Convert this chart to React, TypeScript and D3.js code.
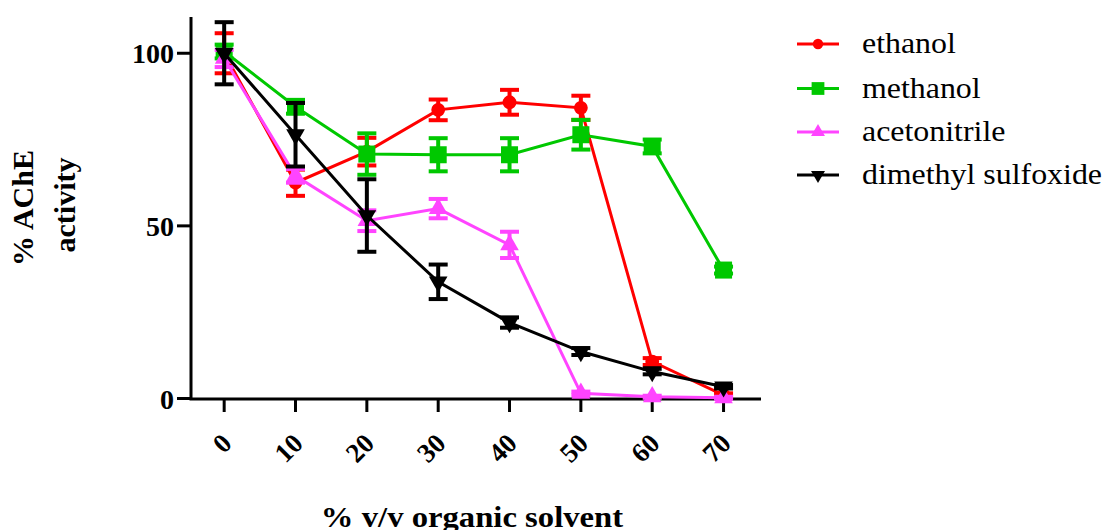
import React from 'react';
import * as d3 from 'd3';

const concentrations = [0, 10, 20, 30, 40, 50, 60, 70];
const xTickLabels = ['0', '10', '20', '30', '40', '50', '60', '70'];
const yTicks = [0, 50, 100];
const seriesNames = ['ethanol', 'methanol', 'acetonitrile', 'dimethyl sulfoxide'];

const ethanolMean = [100, 62.5, 71.5, 83.6, 85.8, 84.2, 10.7, 1];
const ethanolErr = [5.8, 3.8, 4, 3, 3.6, 3.5, 1, 0.5];
const methanolMean = [100.5, 84.5, 70.8, 70.6, 70.6, 76.4, 73, 37.2];
const methanolErr = [2, 2, 6, 4.8, 4.8, 4.3, 2, 1];
const acetonitrileMean = [98.5, 64.5, 51.5, 55, 44.5, 1.5, 0.5, 0.2];
const acetonitrileErr = [2.5, 2, 3, 2.8, 3.8, 0.5, 0.3, 0.3];
const dmsoMean = [100, 76.4, 53, 33.8, 22, 13.6, 7.8, 3.4];
const dmsoErr = [9, 9.2, 10.5, 5, 1.5, 1, 0.8, 0.5];

const W = 1107;
const H = 530;
const FONT = '"Liberation Serif", "Times New Roman", serif';

type Series = { name: string; mean: number[]; err: number[]; color: string; shape: string };

const series: Series[] = [
  { name: seriesNames[0], mean: ethanolMean, err: ethanolErr, color: '#ff0000', shape: 'circle' },
  { name: seriesNames[1], mean: methanolMean, err: methanolErr, color: '#00c800', shape: 'square' },
  { name: seriesNames[2], mean: acetonitrileMean, err: acetonitrileErr, color: '#ff44ff', shape: 'triangle' },
  { name: seriesNames[3], mean: dmsoMean, err: dmsoErr, color: '#000000', shape: 'invtriangle' },
];

function markerPath(shape: string, big: boolean): { d: string; rot: number } {
  const k = big ? 1 : 0.75;
  if (shape === 'circle') return { d: d3.symbol(d3.symbolCircle, 150 * k * k)()!, rot: 0 };
  if (shape === 'square') return { d: d3.symbol(d3.symbolSquare, 290 * k * k)()!, rot: 0 };
  if (shape === 'triangle') return { d: d3.symbol(d3.symbolTriangle, 150 * k * k)()!, rot: 0 };
  return { d: d3.symbol(d3.symbolTriangle, 150 * k * k)()!, rot: 180 };
}

export default function App() {
  const x = d3.scaleLinear().domain([-4.65, 75.25]).range([191, 761]);
  const y = d3.scaleLinear().domain([0, 110.5]).range([398.5, 17]);
  const line = d3
    .line<number>()
    .x((_, i) => x(concentrations[i]))
    .y((v) => y(v));

  const legendRows = [44, 88.5, 132, 175];

  return (
    <svg
      width={W}
      height={H}
      style={{ position: 'absolute', left: 0, top: 0, background: '#fff' }}
      fontFamily={FONT}
    >
      <rect x={0} y={0} width={W} height={H} fill="#fff" />
      {/* axes */}
      <line x1={191} x2={191} y1={y.range()[1]} y2={400} stroke="#000" strokeWidth={3} />
      <line x1={189.5} x2={x.range()[1]} y1={399} y2={399} stroke="#000" strokeWidth={3} />
      {yTicks.map((t) => (
        <g key={'yt' + t}>
          <line x1={177} x2={191} y1={y(t)} y2={y(t)} stroke="#000" strokeWidth={3} />
          <text x={174} y={y(t) + 10} textAnchor="end" fontSize={28} fontWeight="bold">
            {t}
          </text>
        </g>
      ))}
      {concentrations.map((c, i) => (
        <g key={'xt' + c}>
          <line x1={x(c)} x2={x(c)} y1={399} y2={412} stroke="#000" strokeWidth={3} />
          <text
            transform={`translate(${x(c) + 9},${445}) rotate(-45)`}
            textAnchor="end"
            fontSize={27}
            fontWeight="bold"
          >
            {xTickLabels[i]}
          </text>
        </g>
      ))}
      {/* axis titles */}
      <text
        transform={`translate(472,527) scale(1.09,1)`}
        textAnchor="middle"
        fontSize={30}
        fontWeight="bold"
      >
        % v/v organic solvent
      </text>
      <text transform="translate(33,208) rotate(-90)" textAnchor="middle" fontSize={30} fontWeight="bold">
        % AChE
      </text>
      <text transform="translate(75,205) rotate(-90)" textAnchor="middle" fontSize={30} fontWeight="bold">
        activity
      </text>

      {/* data */}
      {series.map((s) => {
        const m = markerPath(s.shape, true);
        return (
          <g key={s.name}>
            <path d={line(s.mean)!} fill="none" stroke={s.color} strokeWidth={3} />
            {s.mean.map((v, i) => {
              const cx = x(concentrations[i]);
              const e = s.err[i];
              return (
                <g key={i}>
                  <line x1={cx} x2={cx} y1={y(v - e)} y2={y(v + e)} stroke={s.color} strokeWidth={4} />
                  <line x1={cx - 9.5} x2={cx + 9.5} y1={y(v - e)} y2={y(v - e)} stroke={s.color} strokeWidth={4} />
                  <line x1={cx - 9.5} x2={cx + 9.5} y1={y(v + e)} y2={y(v + e)} stroke={s.color} strokeWidth={4} />
                  <path d={m.d} transform={`translate(${cx},${y(v)}) rotate(${m.rot})`} fill={s.color} />
                </g>
              );
            })}
          </g>
        );
      })}

      {/* legend */}
      {series.map((s, i) => {
        const m = markerPath(s.shape, false);
        const ly = legendRows[i];
        return (
          <g key={'lg' + s.name}>
            <line x1={797} x2={839} y1={ly} y2={ly} stroke={s.color} strokeWidth={3} />
            <path d={m.d} transform={`translate(818,${ly}) rotate(${m.rot})`} fill={s.color} />
            <text transform={`translate(862,${ly + 9}) scale(1.1,1)`} fontSize={29}>
              {s.name}
            </text>
          </g>
        );
      })}
    </svg>
  );
}
